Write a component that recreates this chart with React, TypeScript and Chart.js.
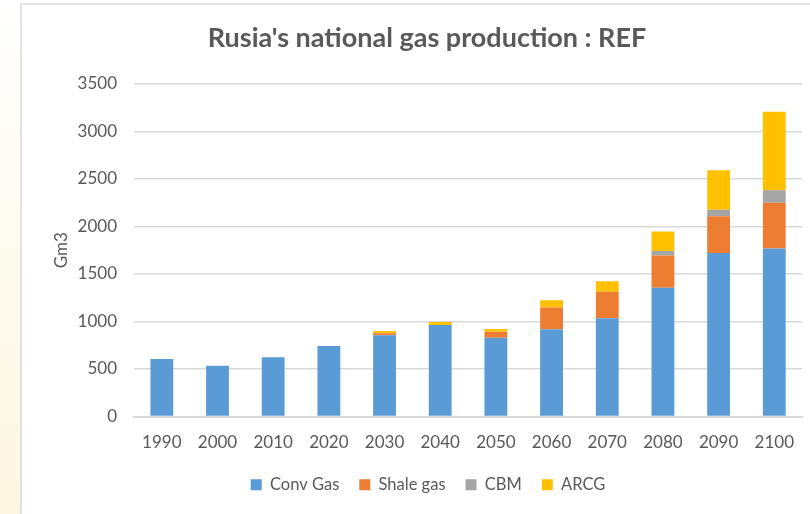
import { useEffect, useRef } from "react";
import { Chart, registerables } from "chart.js";

Chart.register(...registerables);

const categories = ["1990", "2000", "2010", "2020", "2030", "2040", "2050", "2060", "2070", "2080", "2090", "2100"];
const convGas = [605, 533, 625, 742, 855, 963, 830, 918, 1033, 1355, 1721, 1769];
const shaleGas = [0, 0, 0, 0, 21, 0, 63, 230, 279, 341, 387, 481];
const cbm = [0, 0, 0, 0, 0, 0, 0, 0, 0, 46, 69, 132];
const arcg = [0, 0, 0, 0, 24, 31, 28, 77, 112, 205, 414, 826];
const yTicks = [0, 500, 1000, 1500, 2000, 2500, 3000, 3500];

const titleText = "Rusia's national gas production : REF";
const FONT = "Lato, 'Liberation Sans', sans-serif";
const TEXT_COLOR = "#595959";
const GRID_COLOR = "#d9d9d9";

const backgroundPlugin = {
  id: "bgDecor",
  beforeDraw(chart: any) {
    const ctx = chart.ctx as CanvasRenderingContext2D;
    const w = chart.width;
    const h = chart.height;
    ctx.save();
    ctx.fillStyle = "#ffffff";
    ctx.fillRect(0, 0, w, h);
    const g = ctx.createLinearGradient(0, 0, 0, h);
    g.addColorStop(0, "#ffffff");
    g.addColorStop(0.3, "#fefcf4");
    g.addColorStop(1, "#fcf7e2");
    ctx.fillStyle = g;
    ctx.fillRect(0, 0, 20, h);
    ctx.strokeStyle = GRID_COLOR;
    ctx.lineWidth = 1.5;
    ctx.beginPath();
    ctx.moveTo(21, h);
    ctx.lineTo(21, 4);
    ctx.lineTo(w, 4);
    ctx.stroke();
    ctx.fillStyle = TEXT_COLOR;
    ctx.font = "bold 27px " + FONT;
    ctx.textAlign = "center";
    ctx.textBaseline = "alphabetic";
    ctx.fillText(titleText, 427, 47);
    ctx.restore();
  },
};

export default function App() {
  const canvasRef = useRef<HTMLCanvasElement | null>(null);

  useEffect(() => {
    const canvas = canvasRef.current;
    if (!canvas) return;
    const chart = new Chart(canvas, {
      type: "bar",
      data: {
        labels: categories,
        datasets: [
          { label: "Conv Gas", data: convGas, backgroundColor: "#5B9BD5" },
          { label: "Shale gas", data: shaleGas, backgroundColor: "#ED7D31" },
          { label: "CBM", data: cbm, backgroundColor: "#A5A5A5" },
          { label: "ARCG", data: arcg, backgroundColor: "#FFC000" },
        ],
      },
      options: {
        responsive: false,
        animation: false,
        devicePixelRatio: 1,
        layout: { padding: { left: 46, right: 0, top: 84, bottom: 11 } },
        datasets: {
          bar: { categoryPercentage: 1, barPercentage: 0.41 },
        },
        plugins: {
          title: { display: false },
          tooltip: { enabled: false },
          legend: {
            position: "bottom",
            align: "center",
            labels: {
              boxWidth: 11,
              boxHeight: 11,
              padding: 20,
              color: TEXT_COLOR,
              font: { family: FONT, size: 16.5 },
            },
          },
        },
        scales: {
          x: {
            stacked: true,
            grid: { display: false, drawTicks: false },
            border: { display: true, color: GRID_COLOR, width: 2 },
            ticks: {
              color: TEXT_COLOR,
              font: { family: FONT, size: 17 },
              padding: 16,
              maxRotation: 0,
            },
            afterFit: (scale: any) => {
              scale.height = 40;
            },
          },
          y: {
            stacked: true,
            min: 0,
            max: 3500,
            afterBuildTicks: (scale: any) => {
              scale.ticks = yTicks.map((v) => ({ value: v }));
            },
            grid: { color: GRID_COLOR, lineWidth: 1.5, drawTicks: false },
            border: { display: false },
            ticks: {
              color: TEXT_COLOR,
              font: { family: FONT, size: 17 },
              padding: 17,
              callback: (value: any) => String(value),
            },
            title: {
              display: true,
              text: "Gm3",
              color: TEXT_COLOR,
              font: { family: FONT, size: 17 },
              padding: { top: 5, bottom: 0 },
            },
            afterFit: (scale: any) => {
              scale.width = 88;
            },
          },
        },
      },
      plugins: [backgroundPlugin],
    });
    return () => chart.destroy();
  }, []);

  return (
    <div style={{ position: "fixed", left: 0, top: 0, width: 810, height: 514, overflow: "hidden" }}>
      <canvas ref={canvasRef} width={810} height={514} style={{ display: "block" }} />
    </div>
  );
}
